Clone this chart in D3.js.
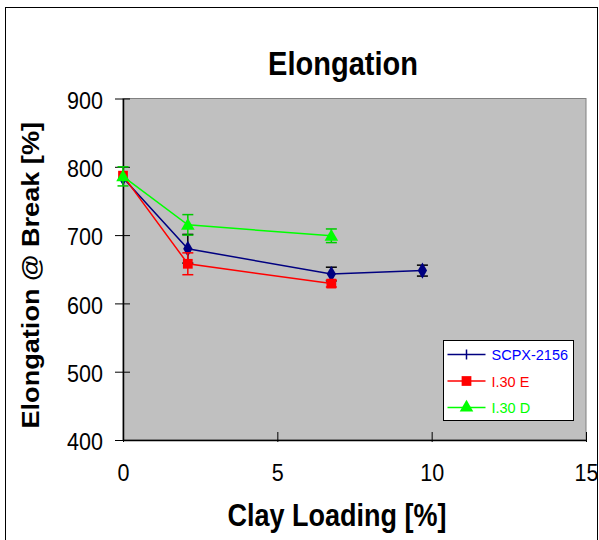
<!DOCTYPE html>
<html>
<head>
<meta charset="utf-8">
<script src="https://cdnjs.cloudflare.com/ajax/libs/d3/7.8.5/d3.min.js"></script>
<style>
body{margin:0;background:#fff;}
text{font-family:Arial,"Liberation Sans",sans-serif;}
</style>
</head>
<body>
<div id="chart"></div>
<script>
// data
const seriesNames = ['SCPX-2156', 'I.30 E', 'I.30 D'];
const scpxX = [0, 2.1, 6.75, 9.7];
const scpxY = [784, 680, 643, 648];
const scpxErr = [0, 21, 10, 8];
const e30X = [0, 2.1, 6.75];
const e30Y = [787, 658, 629];
const e30Err = [0, 16, 5];
const d30X = [0, 2.1, 6.75];
const d30Y = [786, 715, 699];
const d30Err = [14, 15, 10];
const xTicks = [0, 5, 10, 15];
const yTicks = [400, 500, 600, 700, 800, 900];

const width = 599, height = 540;
const stretch = 1.13; // text in the picture is a bit taller than wide
const svg = d3.select('#chart').append('svg')
    .attr('width', width)
    .attr('height', height);

// outer frame
svg.append('rect')
    .attr('x', 5.5).attr('y', 7.5)
    .attr('width', 592).attr('height', 545)
    .style('fill', 'none').style('stroke', '#000').style('stroke-width', 1);

const xScale = d3.scaleLinear().domain([0, 15]).range([123, 586]);
const yScale = d3.scaleLinear().domain([400, 900]).range([440, 98.5]);

// plot area
svg.append('rect')
    .attr('x', xScale(0)).attr('y', yScale(900))
    .attr('width', xScale(15) - xScale(0))
    .attr('height', yScale(400) - yScale(900))
    .style('fill', '#c0c0c0')
    .style('stroke', '#808080').style('stroke-width', 1);

const xAxis = svg.append('g')
    .attr('transform', `translate(0,${yScale(400)})`)
    .call(d3.axisBottom(xScale).tickValues(xTicks).tickSizeOuter(0));
xAxis.selectAll('.tick line').attr('y2', -8).attr('y1', 2);
xAxis.selectAll('.tick text')
    .attr('y', null).attr('dy', null)
    .attr('transform', `translate(0,41) scale(1,${stretch})`)
    .style('font-size', '21.5px').style('fill', '#000');
xAxis.select('.domain').style('stroke-width', 1.5);

const yAxis = svg.append('g')
    .attr('transform', `translate(${xScale(0)},0)`)
    .call(d3.axisLeft(yScale).tickValues(yTicks).tickSizeOuter(0));
yAxis.selectAll('.tick line').attr('x2', -8).attr('x1', 7);
yAxis.selectAll('.tick text')
    .attr('x', null).attr('dy', null)
    .attr('transform', `translate(-20,9.8) scale(1,${stretch})`)
    .style('font-size', '21.5px').style('fill', '#000');
yAxis.select('.domain').style('stroke-width', 1.5);

// titles
svg.append('text')
    .attr('transform', `translate(343,75) scale(1,${stretch})`)
    .attr('text-anchor', 'middle')
    .style('font-size', '29px').style('font-weight', 'bold')
    .text('Elongation');
svg.append('text')
    .attr('transform', `translate(337,526) scale(1,${stretch})`)
    .attr('text-anchor', 'middle')
    .style('font-size', '27px').style('font-weight', 'bold')
    .text('Clay Loading [%]');
svg.append('text')
    .attr('transform', `translate(39,${(yScale(400) + yScale(900)) / 2 + 6}) scale(1,${stretch}) rotate(-90)`)
    .attr('text-anchor', 'middle')
    .style('font-size', '24px').style('font-weight', 'bold')
    .text('Elongation @ Break [%]');

const series = [
    {name: seriesNames[0], xs: scpxX, ys: scpxY, errs: scpxErr, color: '#000080', errColor: '#000', shape: 'diamond'},
    {name: seriesNames[1], xs: e30X, ys: e30Y, errs: e30Err, color: '#ff0000', errColor: '#ff0000', shape: 'square'},
    {name: seriesNames[2], xs: d30X, ys: d30Y, errs: d30Err, color: '#00ff00', errColor: '#00cc00', shape: 'triangle'}
];

const shapeOf = {
    diamond: d3.symbol().type(d3.symbolDiamond).size(75),
    square: d3.symbol().type(d3.symbolSquare).size(95),
    triangle: d3.symbol().type(d3.symbolTriangle).size(80)
};

const line = d3.line().x(d => xScale(d[0])).y(d => yScale(d[1]));

series.forEach(s => {
    const pts = s.xs.map((x, i) => [x, s.ys[i], s.errs[i]]);
    const g = svg.append('g');
    // error bars
    pts.filter(p => p[2] > 0).forEach(p => {
        const cx = xScale(p[0]);
        const y1 = yScale(p[1] + p[2]), y2 = yScale(p[1] - p[2]);
        g.append('line').attr('x1', cx).attr('x2', cx).attr('y1', y1).attr('y2', y2)
            .style('stroke', s.errColor).style('stroke-width', 1.5);
        [y1, y2].forEach(y => g.append('line')
            .attr('x1', cx - 5.5).attr('x2', cx + 5.5).attr('y1', y).attr('y2', y)
            .style('stroke', s.errColor).style('stroke-width', 1.5));
    });
    g.append('path').datum(pts).attr('d', line)
        .style('fill', 'none').style('stroke', s.color).style('stroke-width', 1.5);
    g.selectAll('.pt').data(pts).enter().append('path')
        .attr('class', 'pt')
        .attr('transform', d => `translate(${xScale(d[0])},${yScale(d[1]) + (s.shape === 'triangle' ? 1 : 0)})`)
        .attr('d', shapeOf[s.shape])
        .style('fill', s.color);
});

// legend
const lg = svg.append('g').attr('transform', 'translate(443.5,340.5)');
lg.append('rect').attr('width', 130).attr('height', 80)
    .style('fill', '#fff').style('stroke', '#000').style('stroke-width', 1);
series.forEach((s, i) => {
    const y = 14 + i * 26.5;
    lg.append('line').attr('x1', 4).attr('x2', 42).attr('y1', y).attr('y2', y)
        .style('stroke', s.color).style('stroke-width', 1.5);
    if (s.shape === 'diamond') {
        lg.append('line').attr('x1', 23).attr('x2', 23).attr('y1', y - 5).attr('y2', y + 5)
            .style('stroke', s.color).style('stroke-width', 1.5);
    } else {
        lg.append('path').attr('transform', `translate(23,${y})`)
            .attr('d', shapeOf[s.shape]).style('fill', s.color);
    }
    lg.append('text').attr('transform', `translate(48,${y + 5.5}) scale(1,1.06)`)
        .style('font-size', '14.5px').style('fill', s.shape === 'diamond' ? '#0000ff' : s.color)
        .text(s.name);
});
</script>
</body>
</html>
